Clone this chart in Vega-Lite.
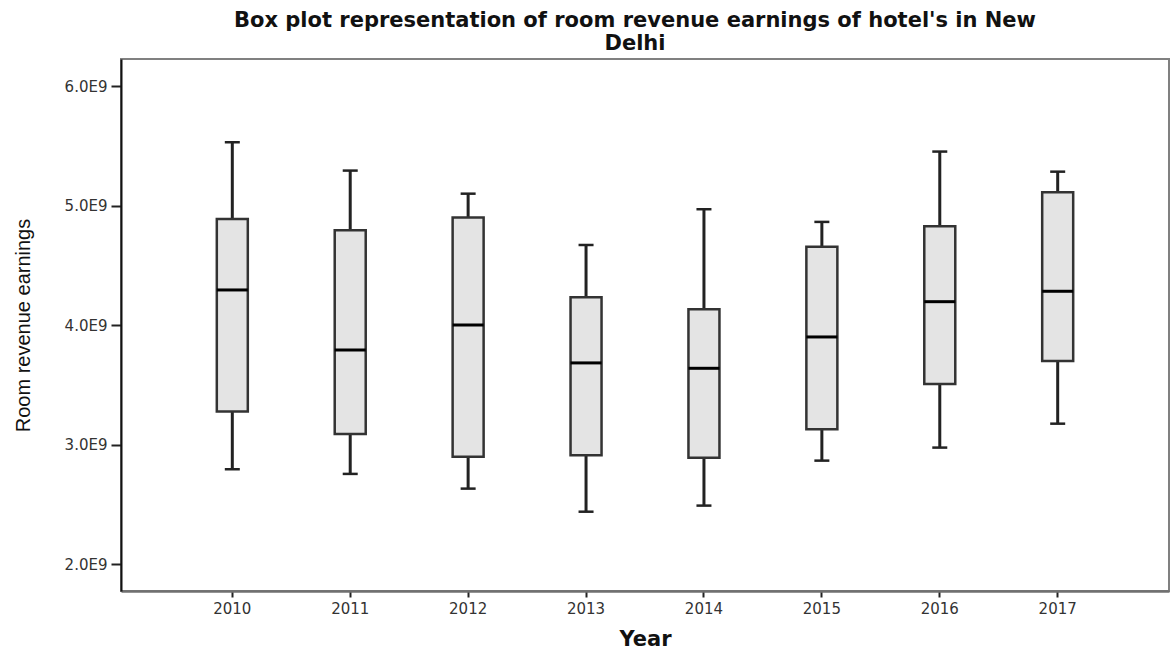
{
  "$schema": "https://vega.github.io/schema/vega-lite/v6.json",
  "autosize": "none",
  "width": 1048,
  "height": 532,
  "padding": {"left": 121, "top": 59, "right": 4, "bottom": 66},
  "background": "white",
  "config": {
    "font": "Liberation Sans",
    "view": {"stroke": "#808080", "strokeWidth": 2},
    "axis": {"grid": false}
  },
  "title": {
    "text": ["Box plot representation of room revenue earnings of hotel's in New", "Delhi"],
    "font": "DejaVu Sans",
    "fontSize": 21,
    "fontWeight": "bold",
    "lineHeight": 23,
    "color": "#111",
    "anchor": "middle",
    "frame": "group",
    "dx": -10,
    "offset": 5
  },
  "data": {
    "values": [
      {"year": "2010", "low": 2796000000, "q1": 3278000000, "median": 4295000000, "q3": 4889000000, "high": 5530000000},
      {"year": "2011", "low": 2757000000, "q1": 3090000000, "median": 3793000000, "q3": 4795000000, "high": 5293000000},
      {"year": "2012", "low": 2634000000, "q1": 2901000000, "median": 4002000000, "q3": 4900000000, "high": 5100000000},
      {"year": "2013", "low": 2441000000, "q1": 2913000000, "median": 3685000000, "q3": 4234000000, "high": 4671000000},
      {"year": "2014", "low": 2492000000, "q1": 2893000000, "median": 3640000000, "q3": 4134000000, "high": 4970000000},
      {"year": "2015", "low": 2868000000, "q1": 3130000000, "median": 3902000000, "q3": 4657000000, "high": 4864000000},
      {"year": "2016", "low": 2977000000, "q1": 3509000000, "median": 4197000000, "q3": 4828000000, "high": 5452000000},
      {"year": "2017", "low": 3177000000, "q1": 3702000000, "median": 4284000000, "q3": 5112000000, "high": 5284000000}
    ]
  },
  "encoding": {
    "x": {
      "field": "year",
      "type": "ordinal",
      "scale": {"type": "band", "paddingInner": 0, "paddingOuter": 0.444},
      "axis": {
        "title": "Year",
        "labelAngle": 0,
        "labelFont": "DejaVu Sans",
        "labelFontSize": 15,
        "labelColor": "#333",
        "labelPadding": 4,
        "tickSize": 6,
        "tickColor": "#222",
        "tickWidth": 2,
        "domainColor": "#707070",
        "domainWidth": 2.5,
        "titleFont": "DejaVu Sans",
        "titleFontSize": 21,
        "titleFontWeight": "bold",
        "titleColor": "#111",
        "titleY": 54,
        "titleBaseline": "alphabetic"
      }
    }
  },
  "layer": [
    {
      "mark": {"type": "rule", "color": "#222", "strokeWidth": 3},
      "encoding": {
        "y": {
          "field": "low",
          "type": "quantitative",
          "scale": {"domain": [1778000000, 6226000000], "nice": false, "zero": false},
          "axis": {
            "title": "Room revenue earnings",
            "values": [2000000000, 3000000000, 4000000000, 5000000000, 6000000000],
            "labelExpr": "format(datum.value / 1e9, '.1f') + 'E9'",
            "labelFont": "DejaVu Sans",
            "labelFontSize": 15,
            "labelColor": "#333",
            "labelPadding": 4,
            "tickSize": 10,
            "tickColor": "#222",
            "tickWidth": 2,
            "domainColor": "#111",
            "domainWidth": 2,
            "titleFontSize": 20,
            "titleFontWeight": "normal",
            "titleColor": "#111",
            "titleAngle": 270,
            "titleX": -98,
            "titleY": 266,
            "titleAlign": "center",
            "titleBaseline": "middle"
          }
        },
        "y2": {"field": "high"}
      }
    },
    {
      "mark": {"type": "bar", "size": 31, "fill": "#e4e4e4", "stroke": "#333", "strokeWidth": 2.5},
      "encoding": {
        "y": {"field": "q1", "type": "quantitative"},
        "y2": {"field": "q3"}
      }
    },
    {
      "mark": {"type": "tick", "size": 31, "thickness": 3, "color": "#000", "opacity": 1},
      "encoding": {"y": {"field": "median", "type": "quantitative"}}
    },
    {
      "mark": {"type": "tick", "size": 15, "thickness": 2.5, "color": "#222", "opacity": 1},
      "encoding": {"y": {"field": "high", "type": "quantitative"}}
    },
    {
      "mark": {"type": "tick", "size": 15, "thickness": 2.5, "color": "#222", "opacity": 1},
      "encoding": {"y": {"field": "low", "type": "quantitative"}}
    }
  ]
}
